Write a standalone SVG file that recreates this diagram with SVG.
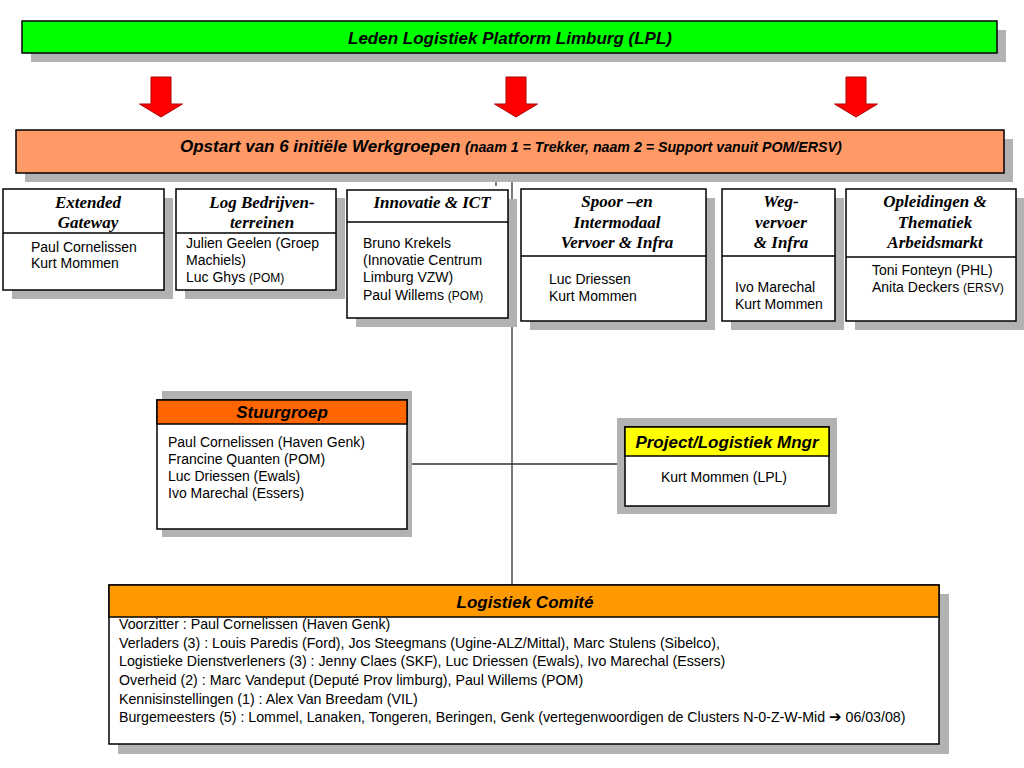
<svg xmlns="http://www.w3.org/2000/svg" width="1024" height="768" viewBox="0 0 1024 768">
<style>
.sh{fill:#B2B2B2;}
.bx{fill:#FFFFFF;stroke:#000;stroke-width:1.5;}
.dv{stroke:#000;stroke-width:1.5;fill:none;}
.hd{font-family:"Liberation Sans",Arial,sans-serif;font-weight:bold;font-style:italic;font-size:17px;fill:#000;}
.st{font-family:"Liberation Serif","Times New Roman",serif;font-weight:bold;font-style:italic;font-size:17px;fill:#000;text-anchor:middle;}
.bd{font-family:"Liberation Sans",Arial,sans-serif;font-size:14px;fill:#000;}
.cb{font-size:14.2px;}
.sm{font-size:12px;}
.cn{stroke:#333;stroke-width:1.3;fill:none;}
.ar{fill:#FF0000;stroke:#B00000;stroke-width:1;}
</style>
<defs>
<path id="arrow" d="M-10,0 H10 V27 H21.5 L0,40 L-21.5,27 H-10 Z"/>
</defs>
<rect width="1024" height="768" fill="#FFFFFF"/>

<g id="connectors">
<line class="cn" x1="512" y1="173" x2="512" y2="585"/>
<line class="cn" x1="407" y1="464" x2="617" y2="464"/>
<line class="cn" x1="496" y1="182" x2="496" y2="186"/>
</g>

<g id="lpl">
<rect class="sh" x="31" y="30" width="975" height="32"/>
<rect x="22" y="21" width="975" height="32" fill="#00FF00" stroke="#000" stroke-width="1.5"/>
<text class="hd" x="510" y="44" text-anchor="middle">Leden Logistiek Platform Limburg (LPL)</text>
</g>

<g id="arrows">
<use href="#arrow" class="ar" x="161" y="77"/>
<use href="#arrow" class="ar" x="516" y="77"/>
<use href="#arrow" class="ar" x="856" y="77"/>
</g>

<g id="opstart">
<rect class="sh" x="25" y="139" width="988" height="43"/>
<rect x="16" y="130" width="988" height="43" fill="#FF9966" stroke="#000" stroke-width="1.5"/>
<text class="hd" x="180" y="152">Opstart van 6 initiële Werkgroepen <tspan font-size="14.2px">(naam 1 = Trekker, naam 2 = Support vanuit POM/ERSV)</tspan></text>
</g>

<g id="extended-gateway">
<rect class="sh" x="12" y="198" width="161" height="101"/>
<rect class="bx" x="3" y="189" width="161" height="101"/>
<line class="dv" x1="3" y1="233" x2="164" y2="233"/>
<text class="st" x="88" y="208">Extended</text>
<text class="st" x="88" y="228">Gateway</text>
<text class="bd" x="31" y="252">Paul Cornelissen</text>
<text class="bd" x="31" y="268">Kurt Mommen</text>
</g>

<g id="log-bedrijventerreinen">
<rect class="sh" x="185" y="198" width="160" height="101"/>
<rect class="bx" x="176" y="189" width="160" height="101"/>
<line class="dv" x1="176" y1="233" x2="336" y2="233"/>
<text class="st" x="262" y="208">Log Bedrijven-</text>
<text class="st" x="262" y="228">terreinen</text>
<text class="bd" x="186" y="248">Julien Geelen (Groep</text>
<text class="bd" x="186" y="265">Machiels)</text>
<text class="bd" x="186" y="282">Luc Ghys <tspan class="sm">(POM)</tspan></text>
</g>

<g id="innovatie-ict">
<rect class="sh" x="356" y="199" width="161" height="128"/>
<rect class="bx" x="347" y="190" width="161" height="128"/>
<line class="dv" x1="347" y1="222" x2="508" y2="222"/>
<text class="st" x="432" y="208">Innovatie &amp; ICT</text>
<text class="bd" x="363" y="248">Bruno Krekels</text>
<text class="bd" x="363" y="265">(Innovatie Centrum</text>
<text class="bd" x="363" y="282">Limburg VZW)</text>
<text class="bd" x="363" y="300">Paul Willems <tspan class="sm">(POM)</tspan></text>
</g>

<g id="spoor-intermodaal">
<rect class="sh" x="530" y="198" width="185" height="132"/>
<rect class="bx" x="521" y="189" width="185" height="132"/>
<line class="dv" x1="521" y1="256" x2="706" y2="256"/>
<text class="st" x="617" y="207">Spoor –en</text>
<text class="st" x="617" y="228">Intermodaal</text>
<text class="st" x="617" y="248">Vervoer &amp; Infra</text>
<text class="bd" x="549" y="284">Luc Driessen</text>
<text class="bd" x="549" y="301">Kurt Mommen</text>
</g>

<g id="wegvervoer">
<rect class="sh" x="731" y="198" width="113" height="132"/>
<rect class="bx" x="722" y="189" width="113" height="132"/>
<line class="dv" x1="722" y1="256" x2="835" y2="256"/>
<text class="st" x="781" y="207">Weg-</text>
<text class="st" x="781" y="228">vervoer</text>
<text class="st" x="781" y="248">&amp; Infra</text>
<text class="bd" x="735" y="292">Ivo Marechal</text>
<text class="bd" x="735" y="309">Kurt Mommen</text>
</g>

<g id="opleidingen">
<rect class="sh" x="855" y="198" width="170" height="132"/>
<rect class="bx" x="846" y="189" width="170" height="132"/>
<line class="dv" x1="846" y1="257" x2="1016" y2="257"/>
<text class="st" x="935" y="207">Opleidingen &amp;</text>
<text class="st" x="935" y="228">Thematiek</text>
<text class="st" x="935" y="248">Arbeidsmarkt</text>
<text class="bd" x="872" y="275">Toni Fonteyn (PHL)</text>
<text class="bd" x="872" y="292">Anita Deckers <tspan class="sm">(ERSV)</tspan></text>
</g>

<g id="stuurgroep">
<rect class="sh" x="162" y="391" width="250" height="146"/>
<rect class="bx" x="157" y="400" width="250" height="129"/>
<rect x="157" y="400" width="250" height="24" fill="#FF6600" stroke="#000" stroke-width="1.5"/>
<text class="hd" x="282" y="418" text-anchor="middle">Stuurgroep</text>
<text class="bd" x="168" y="447">Paul Cornelissen (Haven Genk)</text>
<text class="bd" x="168" y="464">Francine Quanten (POM)</text>
<text class="bd" x="168" y="481">Luc Driessen (Ewals)</text>
<text class="bd" x="168" y="498">Ivo Marechal (Essers)</text>
</g>

<g id="project-manager">
<rect class="sh" x="617" y="418" width="220" height="96"/>
<rect class="bx" x="625" y="427" width="204" height="79"/>
<rect x="625" y="427" width="204" height="29" fill="#FFFF00" stroke="#000" stroke-width="1.5"/>
<text class="hd" x="727" y="448" text-anchor="middle">Project/Logistiek Mngr</text>
<text class="bd" x="724" y="482" text-anchor="middle">Kurt Mommen (LPL)</text>
</g>

<g id="logistiek-comite">
<rect class="sh" x="118" y="594" width="831" height="160"/>
<rect class="bx" x="109" y="585" width="830" height="159"/>
<rect x="109" y="585" width="830" height="32" fill="#FF9900" stroke="#000" stroke-width="1.5"/>
<text class="hd" x="525" y="608" text-anchor="middle">Logistiek Comité</text>
<text class="bd cb" x="119" y="629">Voorzitter : Paul Cornelissen (Haven Genk)</text>
<text class="bd cb" x="119" y="648">Verladers (3) : Louis Paredis (Ford), Jos Steegmans (Ugine-ALZ/Mittal), Marc Stulens (Sibelco),</text>
<text class="bd cb" x="119" y="666">Logistieke Dienstverleners (3) : Jenny Claes (SKF), Luc Driessen (Ewals), Ivo Marechal (Essers)</text>
<text class="bd cb" x="119" y="685">Overheid (2) : Marc Vandeput (Deputé Prov limburg), Paul Willems (POM)</text>
<text class="bd cb" x="119" y="704">Kennisinstellingen (1) : Alex Van Breedam (VIL)</text>
<text class="bd cb" x="119" y="722">Burgemeesters (5) : Lommel, Lanaken, Tongeren, Beringen, Genk (vertegenwoordigen de Clusters N-0-Z-W-Mid <tspan font-family="'DejaVu Sans',sans-serif" font-weight="bold" font-size="15px">➔</tspan> 06/03/08)</text>
</g>
</svg>
